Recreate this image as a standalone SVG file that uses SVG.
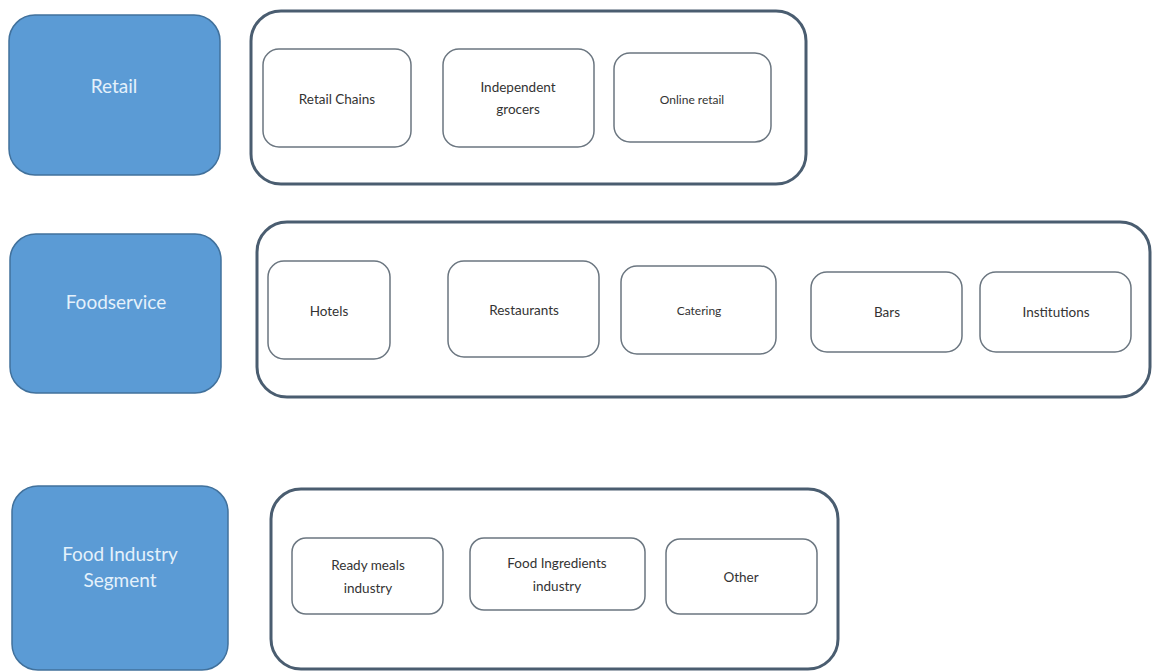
<svg xmlns="http://www.w3.org/2000/svg" width="1152" height="671" viewBox="0 0 1152 671">
<style>
.seg{fill:#5b9bd5;stroke:#41719c;stroke-width:1.5}
.segt{fill:#e4f1fb;font-family:Lato,"Open Sans",sans-serif;font-size:19px;text-anchor:middle}
.cont{fill:#fff;stroke:#4a5d70;stroke-width:3}
.item{fill:#fff;stroke:#6b7680;stroke-width:1.5}
.it{fill:#333;font-family:Lato,"Open Sans",sans-serif;font-size:13.5px;text-anchor:middle}
.sm{font-size:12px}
</style>
<rect width="1152" height="671" fill="#fff"/>
<g id="retail">
<rect class="seg" x="9" y="15" width="211" height="160" rx="26"/>
<text class="segt" x="114" y="93">Retail</text>
</g>
<g id="retail-group">
<rect class="cont" x="251" y="11" width="555" height="173" rx="30"/>
<g id="retail-chains"><rect class="item" x="263" y="49" width="148" height="98" rx="16"/><text class="it" x="337" y="104">Retail Chains</text></g>
<g id="independent-grocers"><rect class="item" x="443" y="49" width="151" height="98" rx="16"/><text class="it" x="518" y="92">Independent</text><text class="it" x="518" y="114">grocers</text></g>
<g id="online-retail"><rect class="item" x="614" y="53" width="157" height="89" rx="16"/><text class="it sm" x="692" y="104">Online retail</text></g>
</g>
<g id="foodservice">
<rect class="seg" x="10" y="234" width="211" height="159" rx="26"/>
<text class="segt" x="116" y="309">Foodservice</text>
</g>
<g id="foodservice-group">
<rect class="cont" x="257" y="222" width="893" height="175" rx="30"/>
<g id="hotels"><rect class="item" x="268" y="261" width="122" height="98" rx="16"/><text class="it" x="329" y="316">Hotels</text></g>
<g id="restaurants"><rect class="item" x="448" y="261" width="151" height="96" rx="16"/><text class="it" x="524" y="315">Restaurants</text></g>
<g id="catering"><rect class="item" x="621" y="266" width="155" height="88" rx="16"/><text class="it sm" x="699" y="315">Catering</text></g>
<g id="bars"><rect class="item" x="811" y="272" width="151" height="80" rx="16"/><text class="it" x="887" y="317">Bars</text></g>
<g id="institutions"><rect class="item" x="980" y="272" width="151" height="80" rx="16"/><text class="it" x="1056" y="317">Institutions</text></g>
</g>
<g id="food-industry">
<rect class="seg" x="12" y="486" width="216" height="184" rx="26"/>
<text class="segt" x="120" y="561">Food Industry</text>
<text class="segt" x="120" y="587">Segment</text>
</g>
<g id="food-industry-group">
<rect class="cont" x="271" y="489" width="567" height="180" rx="30"/>
<g id="ready-meals"><rect class="item" x="292" y="538" width="151" height="76" rx="14"/><text class="it" x="368" y="570">Ready meals</text><text class="it" x="368" y="593">industry</text></g>
<g id="food-ingredients"><rect class="item" x="470" y="538" width="175" height="72" rx="14"/><text class="it" x="557" y="568">Food Ingredients</text><text class="it" x="557" y="591">industry</text></g>
<g id="other"><rect class="item" x="666" y="539" width="151" height="75" rx="14"/><text class="it" x="741" y="582">Other</text></g>
</g>
<g id="connectors"/>
</svg>
